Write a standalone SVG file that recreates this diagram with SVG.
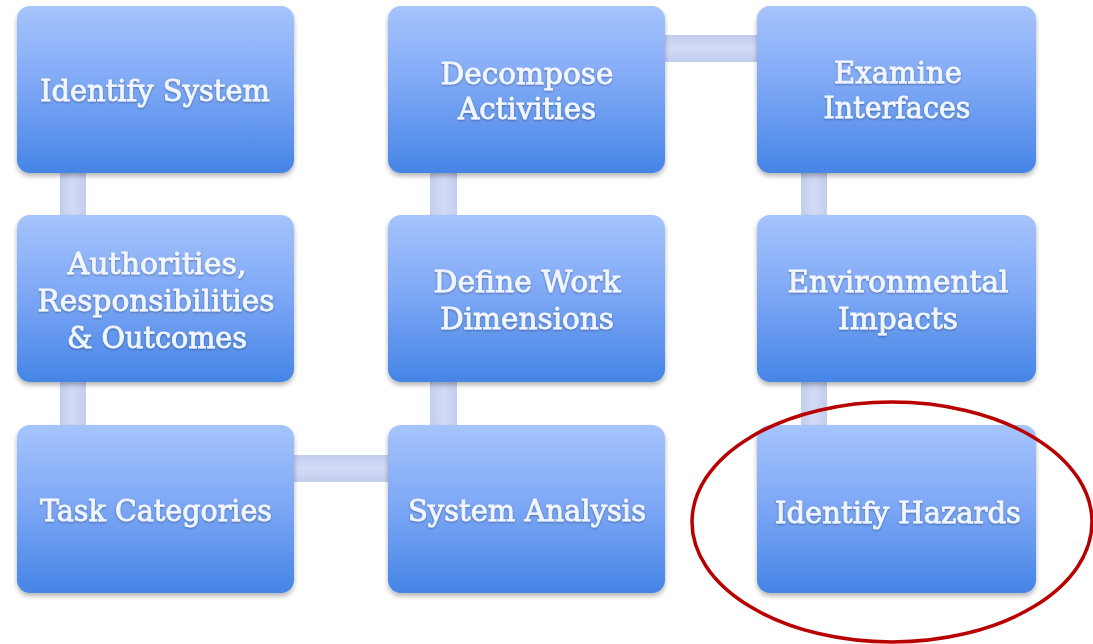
<svg xmlns="http://www.w3.org/2000/svg" width="1093" height="644" viewBox="0 0 1093 644">
  <defs>
    <linearGradient id="boxFill" x1="0" y1="0" x2="0" y2="1">
      <stop offset="0" stop-color="#a6c4fc"/>
      <stop offset="0.45" stop-color="#80a9f6"/>
      <stop offset="1" stop-color="#4585e6"/>
    </linearGradient>
    <linearGradient id="linkV" x1="0" y1="0" x2="1" y2="0">
      <stop offset="0" stop-color="#c2cdef"/>
      <stop offset="0.5" stop-color="#d3dbf5"/>
      <stop offset="1" stop-color="#c2cdef"/>
    </linearGradient>
    <linearGradient id="linkH" x1="0" y1="0" x2="0" y2="1">
      <stop offset="0" stop-color="#c2cdef"/>
      <stop offset="0.5" stop-color="#d3dbf5"/>
      <stop offset="1" stop-color="#c2cdef"/>
    </linearGradient>
    <filter id="shadow" x="-10%" y="-10%" width="120%" height="125%">
      <feGaussianBlur in="SourceAlpha" stdDeviation="2.5"/>
      <feOffset dy="3"/>
      <feComponentTransfer><feFuncA type="linear" slope="0.3"/></feComponentTransfer>
      <feMerge><feMergeNode/><feMergeNode in="SourceGraphic"/></feMerge>
    </filter>
    <filter id="txtShadow" x="-5%" y="-20%" width="110%" height="150%">
      <feGaussianBlur in="SourceAlpha" stdDeviation="1"/>
      <feOffset dy="1"/>
      <feComponentTransfer><feFuncA type="linear" slope="0.35"/></feComponentTransfer>
      <feMerge><feMergeNode/><feMergeNode in="SourceGraphic"/></feMerge>
    </filter>
  </defs>
  <style>
    .box { fill: url(#boxFill); filter: url(#shadow); }
    .lbl { font-family: "DejaVu Serif", "Liberation Serif", serif; font-size: 29px; fill: #f1f6ff; stroke: #f1f6ff; stroke-width: 0.8px; text-anchor: middle; filter: url(#txtShadow); }
    .v { fill: url(#linkV); }
    .h { fill: url(#linkH); }
  </style>
  <rect width="1093" height="644" fill="#ffffff"/>

  <!-- connectors -->
  <g id="connectors">
    <rect class="v" x="60" y="170" width="26" height="50"/>
    <rect class="v" x="60" y="380" width="26" height="50"/>
    <rect class="h" x="290" y="455" width="102" height="27"/>
    <rect class="v" x="430" y="378" width="27" height="52"/>
    <rect class="v" x="430" y="170" width="27" height="50"/>
    <rect class="h" x="660" y="35" width="102" height="27"/>
    <rect class="v" x="801" y="170" width="26" height="50"/>
    <rect class="v" x="801" y="380" width="26" height="50"/>
  </g>

  <!-- column 1 -->
  <g id="identify-system">
    <rect class="box" x="17" y="6" width="277" height="167" rx="13"/>
    <text class="lbl" x="155" y="101" textLength="230" lengthAdjust="spacingAndGlyphs">Identify System</text>
  </g>
  <g id="authorities">
    <rect class="box" x="17" y="215" width="277" height="167" rx="13"/>
    <text class="lbl" x="157" y="274" textLength="179" lengthAdjust="spacingAndGlyphs">Authorities,</text>
    <text class="lbl" x="156" y="311" textLength="237" lengthAdjust="spacingAndGlyphs">Responsibilities</text>
    <text class="lbl" x="157" y="348" textLength="180" lengthAdjust="spacingAndGlyphs">&amp; Outcomes</text>
  </g>
  <g id="task-categories">
    <rect class="box" x="17" y="425" width="277" height="168" rx="13"/>
    <text class="lbl" x="156" y="521" textLength="232" lengthAdjust="spacingAndGlyphs">Task Categories</text>
  </g>

  <!-- column 2 -->
  <g id="decompose-activities">
    <rect class="box" x="388" y="6" width="277" height="167" rx="13"/>
    <text class="lbl" x="527" y="84" textLength="173" lengthAdjust="spacingAndGlyphs">Decompose</text>
    <text class="lbl" x="527" y="119" textLength="138" lengthAdjust="spacingAndGlyphs">Activities</text>
  </g>
  <g id="define-work-dimensions">
    <rect class="box" x="388" y="215" width="277" height="167" rx="13"/>
    <text class="lbl" x="527" y="292" textLength="187" lengthAdjust="spacingAndGlyphs">Define Work</text>
    <text class="lbl" x="527" y="329" textLength="174" lengthAdjust="spacingAndGlyphs">Dimensions</text>
  </g>
  <g id="system-analysis">
    <rect class="box" x="388" y="425" width="277" height="168" rx="13"/>
    <text class="lbl" x="527" y="521" textLength="238" lengthAdjust="spacingAndGlyphs">System Analysis</text>
  </g>

  <!-- column 3 -->
  <g id="examine-interfaces">
    <rect class="box" x="757" y="6" width="279" height="167" rx="13"/>
    <text class="lbl" x="898" y="83" textLength="128" lengthAdjust="spacingAndGlyphs">Examine</text>
    <text class="lbl" x="897" y="118" textLength="147" lengthAdjust="spacingAndGlyphs">Interfaces</text>
  </g>
  <g id="environmental-impacts">
    <rect class="box" x="757" y="215" width="279" height="167" rx="13"/>
    <text class="lbl" x="898" y="292" textLength="221" lengthAdjust="spacingAndGlyphs">Environmental</text>
    <text class="lbl" x="898" y="329" textLength="120" lengthAdjust="spacingAndGlyphs">Impacts</text>
  </g>
  <g id="identify-hazards">
    <rect class="box" x="757" y="425" width="279" height="168" rx="13"/>
    <text class="lbl" x="898" y="523" textLength="246" lengthAdjust="spacingAndGlyphs">Identify Hazards</text>
  </g>

  <!-- highlight ring -->
  <ellipse id="highlight" cx="892" cy="522" rx="200" ry="120" fill="none" stroke="#b80000" stroke-width="3.5"/>
</svg>
